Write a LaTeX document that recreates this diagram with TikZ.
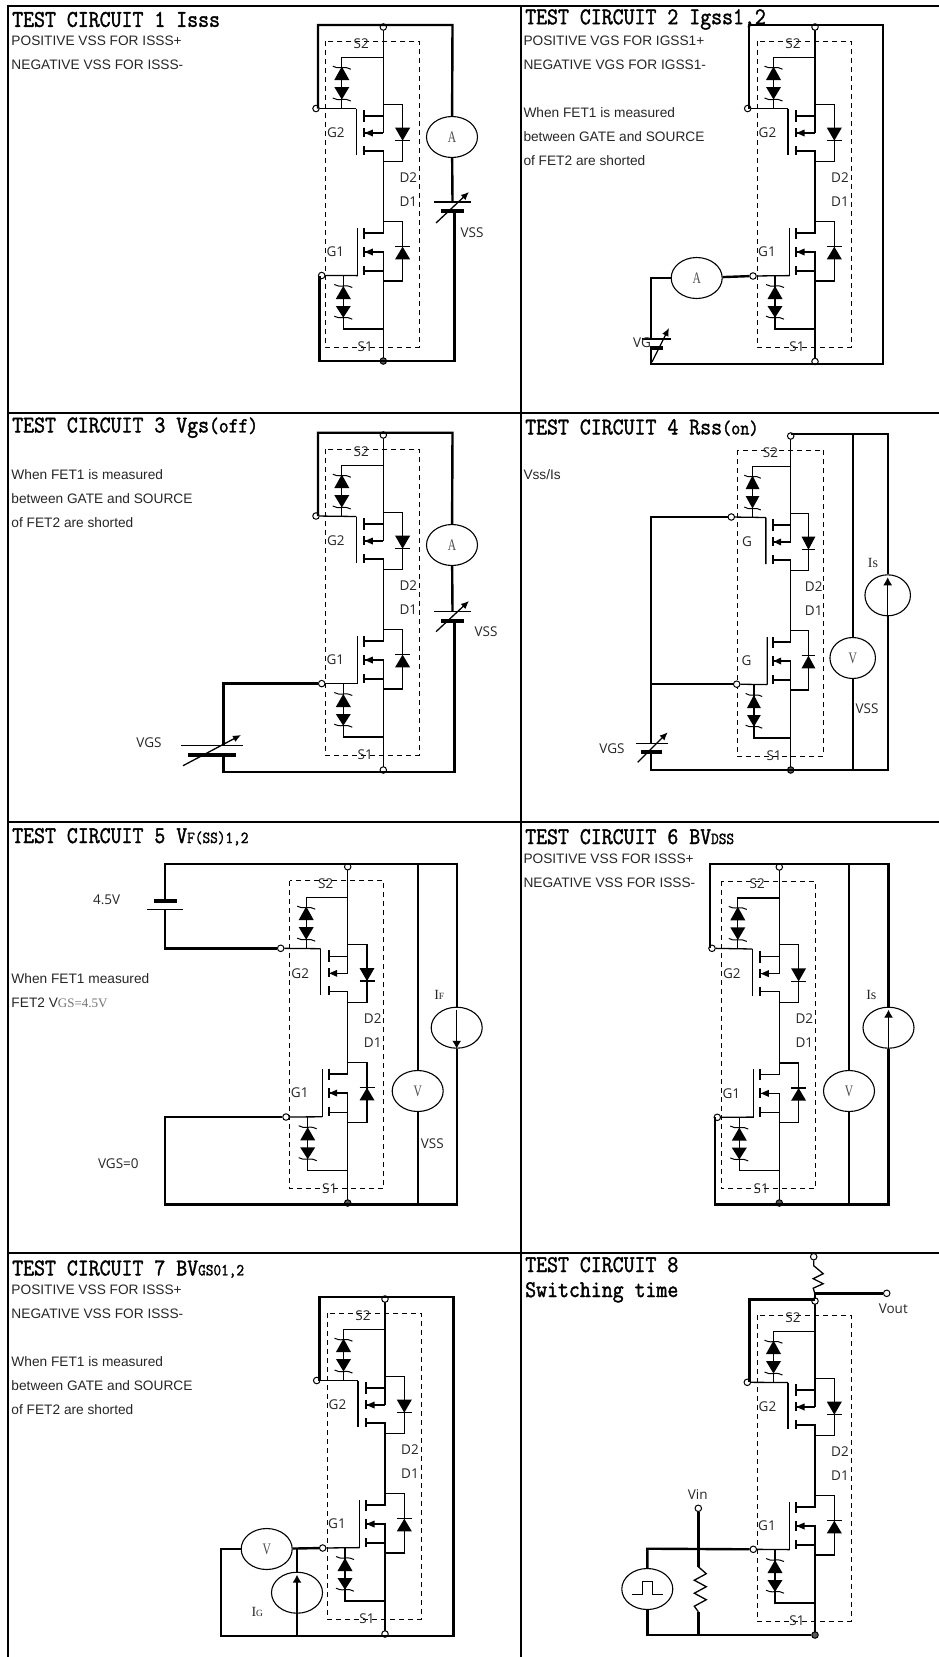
\documentclass[tikz,border=0pt]{standalone}
\usepackage{fontspec}
\setmainfont{Liberation Sans}
\newfontfamily\labelfont{Open Sans}
\newfontfamily\serifont{Liberation Serif}
\newfontfamily\meterfont{Liberation Serif}[FakeStretch=0.72]
\newfontfamily\headfont{Latin Modern Mono}[FakeStretch=0.885,FakeBold=1.6]
\usetikzlibrary{arrows.meta,shapes.geometric}

\tikzset{
frameline/.style={line width=2pt},
wire/.style={line width=2.4pt},
fetline/.style={line width=1.3pt},
chanline/.style={line width=2.1pt},
barline/.style={line width=4pt},
dashbox/.style={line width=0.9pt,dash pattern=on 5pt off 4pt},
term/.style={circle,draw,fill=white,line width=1pt,inner sep=0pt,minimum size=6.5pt},
termdark/.style={term,fill=black!65},
meter/.style={ellipse,draw,fill=white,line width=1.1pt,inner sep=0pt,minimum width=51pt,minimum height=41pt,font=\meterfont\fontsize{16}{16}\selectfont,text=black!70},
srcarrow/.style={line width=1.2pt,-{Latex[length=8pt,width=9pt]}},
head/.style={anchor=west,inner sep=0pt,font=\headfont\fontsize{24}{25}\selectfont},
note/.style={anchor=north west,inner sep=0pt,align=left,text=black!85,font=\fontsize{13.7}{24}\selectfont},
lab/.style={inner sep=0pt,text=black!85,font=\labelfont\fontsize{13.5}{14}\selectfont},
serlab/.style={inner sep=0pt,text=black!85,font=\serifont\fontsize{14}{14}\selectfont},
pics/fetpair/.style 2 args={code={
\draw[dashbox] (-58,14) rectangle (36,320);
\node[lab] (s2) at (-22,17) {S2};
\node[lab] (s1) at (-18,320) {S1};
\node[lab] (g2lab) at (-47.5,106) {#1};
\node[lab] (g1lab) at (-48,225) {#2};
\node[lab] (d2) at (25,151) {D2};
\node[lab] (d1) at (25,175) {D1};
\coordinate (g2) at (-27,81.5);
\coordinate (g1) at (-25.5,248.6);
\draw[fetline] (0,0) -- (0,106);
\draw[fetline] (-19,124) -- (0,124) -- (0,206) -- (-19,206);
\draw[fetline] (-19,89) -- (0,89);
\draw[fetline] (-19,244) -- (0,244);
\draw[fetline] (-18,225) -- (0,225) -- (0,334);
\foreach \ya in {106,225}
\fill (-18.5,\ya) -- (-10.5,\ya-3.5) -- (-10.5,\ya+3.5) -- cycle;
\draw[fetline] (-18,106) -- (0,106);
\draw[fetline] (g2) -- (-27,128);
\draw[fetline] (g1) -- (-25.5,201);
\foreach \ya/\yb in {83/95,101/110,119/128,201/212,220/230,239/248}
\draw[chanline] (-19,\ya) -- (-19,\yb);
\draw[fetline] (0,30.7) -- (-41.5,30.7) -- (-41.5,81.5);
\draw[fetline] (-40,248.6) -- (-40,302) -- (0,302);
\draw[fetline] (0,77.3) -- (19.3,77.3) -- (19.3,134.7) -- (0,134.7);
\draw[fetline] (0,194.7) -- (19.3,194.7) -- (19.3,254) -- (0,254);
\foreach \xa/\ya/\yb in {-41.5/39.5/53,-41.5/72.5/60,-40/259/272,-40/290.7/279,19.3/113.7/100.7,19.3/219.7/232.3}
\fill (\xa-7.5,\yb) -- (\xa+7.5,\yb) -- (\xa,\ya) -- cycle;
\foreach \xa/\ya in {19.3/113.7,19.3/219.7}
\draw[fetline] (\xa-7.5,\ya) -- (\xa+7.5,\ya);
\foreach \xa/\ya in {-41.5/40.7,-41.5/72.5,-40/259,-40/290.7}
\draw[line width=1pt] (\xa-9,\ya-1.5) .. controls (\xa-6,\ya+0.5) and (\xa-4,\ya) .. (\xa,\ya) .. controls (\xa+4,\ya) and (\xa+6,\ya-0.5) .. (\xa+9,\ya+1.5);
}},
pics/varbat/.style n args={4}{code={
\draw[fetline] (-#1,0) -- (#1,0);
\draw[barline] (-#2,9) -- (#2,9);
\draw[fetline,-{Latex[length=8pt,width=7pt]}] #3 -- #4;
}}
}

\begin{document}
\begin{tikzpicture}[x=1pt,y=-1pt]
\useasboundingbox (0,0) rectangle (939,1657);

\draw[frameline] (8,1657) -- (8,5.5) -- (939,5.5);
\draw[frameline] (520.5,5.5) -- (520.5,1657);
\draw[frameline] (8,413) -- (939,413);
\draw[frameline] (8,822) -- (939,822);
\draw[frameline] (8,1253) -- (939,1253);

% circuit 1
\node[head] (c1head) at (12,19.5) {TEST CIRCUIT 1 Isss};
\node[note] (c1note) at (11.3,36) {POSITIVE VSS FOR ISSS+\\NEGATIVE VSS FOR ISSS-};
\pic (c1) at (383.3,27) {fetpair={G2}{G1}};
\node[term] (c1s) at (383.3,27) {};
\node[termdark] (c1e) at (383.3,361) {};
\node[term] (c1gt) at (316,108.5) {};
\node[term] (c1gb) at (321.7,275.5) {};
\node[meter] (c1a) at (452,137) {A};
\node[lab] (c1vss) at (472,233) {VSS};
\coordinate (c1tl) at (318,25);
\coordinate (c1tr) at (452.5,25);
\coordinate (c1bl) at (319.5,361);
\coordinate (c1br) at (454.5,361);
\coordinate (c1bt) at (452.5,202);
\coordinate (c1bb) at (454.5,211);
\pic (c1bat) at (452.5,202) {varbat={18.5}{11.5}{(-16.5,21)}{(16.5,-10)}};
\draw[wire] (c1tl |- c1gt) -- (c1tl) -- (c1tr) -- (c1a);
\draw[wire] (c1a) -- (c1bt);
\draw[wire] (c1bb) -- (c1br) -- (c1bl) -- (c1bl |- c1gb);
\draw[fetline] (c1gt) -- (c1g2);
\draw[fetline] (c1gb) -- (c1g1);

% circuit 2
\node[head] (c2head) at (525,19.5) {TEST CIRCUIT 2 Igss1,2};
\node[note] (c2note) at (523.3,36) {POSITIVE VGS FOR IGSS1+\\NEGATIVE VGS FOR IGSS1-\\[24pt]When FET1 is measured\\between GATE and SOURCE\\of FET2 are shorted};
\pic (c2) at (815,27) {fetpair={G2}{G1}};
\node[term] (c2s) at (815,27) {};
\node[term] (c2e) at (815,361.5) {};
\node[term] (c2gt) at (747.7,108.5) {};
\node[term] (c2gb) at (753,276) {};
\node[meter] (c2a) at (696.7,278) {A};
\coordinate (c2tl) at (749,25);
\coordinate (c2tr) at (883,25);
\coordinate (c2br) at (883,364);
\coordinate (c2bl) at (651,364);
\coordinate (c2al) at (651,278);
\coordinate (c2bt) at (651,339);
\coordinate (c2bb) at (651,347);
\pic (c2bat) at (656,339) {varbat={14.5}{6.5}{(-4,23)}{(13,-11)}};
\node[lab] (c2vg) at (642,343) {VG};
\draw[wire] (c2tl |- c2gt) -- (c2tl) -- (c2tr) -- (c2br) -- (c2bl) -- (c2bb);
\draw[wire] (c2bt) -- (c2al) -- (c2a);
\draw[wire] (c2a) -- (c2gb);
\draw[fetline] (c2gt) -- (c2g2);
\draw[fetline] (c2gb) -- (c2g1);

% circuit 3
\node[head] (c3head) at (12,427.7) {TEST CIRCUIT 3 Vgs{\fontsize{21.5}{25}\selectfont(off)}};
\node[note] (c3note) at (11.3,469.5) {When FET1 is measured\\between GATE and SOURCE\\of FET2 are shorted};
\pic (c3) at (383.3,435) {fetpair={G2}{G1}};
\node[term] (c3s) at (383.3,435) {};
\node[term] (c3e) at (383.3,770) {};
\node[term] (c3gt) at (316,516) {};
\node[term] (c3gb) at (321.7,683.6) {};
\node[meter] (c3a) at (452,545) {A};
\node[lab] (c3vss) at (486,632) {VSS};
\node[lab] (c3vgs) at (149,742.7) {VGS};
\coordinate (c3tl) at (318,432.7);
\coordinate (c3tr) at (452.5,432.7);
\coordinate (c3br) at (454.5,771.7);
\coordinate (c3bl) at (223.3,771.7);
\coordinate (c3bt) at (452.5,611.7);
\coordinate (c3bb) at (454.5,620);
\coordinate (c3gt2) at (223.3,745.7);
\coordinate (c3gb2) at (223.3,754.7);
\pic (c3bat) at (452.5,611.7) {varbat={18.5}{11.5}{(-16.5,20)}{(16.5,-10.7)}};
\pic (c3batg) at (212,745.7) {varbat={31}{24}{(-29,20)}{(29,-10.7)}};
\draw[wire] (c3tl |- c3gt) -- (c3tl) -- (c3tr) -- (c3a);
\draw[wire] (c3a) -- (c3bt);
\draw[wire] (c3bb) -- (c3br) -- (c3bl) -- (c3gb2);
\draw[wire] (c3gt2) -- (c3gt2 |- c3gb) -- (c3gb);
\draw[fetline] (c3gt) -- (c3g2);
\draw[fetline] (c3gb) -- (c3g1);

% circuit 4
\node[head] (c4head) at (525,427.7) {TEST CIRCUIT 4 Rss{\fontsize{20}{25}\selectfont(on)}};
\node[note] (c4note) at (523.3,469.5) {Vss/Is};
\pic[xscale=.92] (c4) at (790.7,436) {fetpair={G}{G}};
\node[term] (c4s) at (790.7,436) {};
\node[termdark] (c4e) at (790.7,770) {};
\node[term] (c4gt) at (731.3,517) {};
\node[term] (c4gb) at (736.7,684.2) {};
\node[meter,minimum width=45.5pt] (c4v) at (852.7,658) {V};
\node[meter,minimum width=45.5pt] (c4i) at (887.7,595.3) {};
\node[lab] (c4vgs) at (612,749) {VGS};
\node[lab] (c4vss) at (867,709) {VSS};
\node[serlab] (c4is) at (873,563) {Is};
\coordinate (c4tl) at (790.7,433.7);
\coordinate (c4tm) at (852.7,433.7);
\coordinate (c4tr) at (887.7,433.7);
\coordinate (c4br) at (887.7,770);
\coordinate (c4bm) at (852.7,770);
\coordinate (c4bl) at (651,770);
\coordinate (c4bt) at (651,743.3);
\coordinate (c4bb) at (651,752.3);
\pic (c4bat) at (651.7,743.3) {varbat={16}{10.3}{(-14,19)}{(16,-11)}};
\draw[wire] (c4tl) -- (c4tr) -- (c4i);
\draw[wire] (c4i) -- (c4br) -- (c4bl) -- (c4bb);
\draw[wire] (c4bt) -- (c4bt |- c4gt) -- (c4gt);
\draw[wire] (c4bt |- c4gb) -- (c4gb);
\draw[wire] (c4tm) -- (c4v);
\draw[wire] (c4v) -- (c4bm);
\draw[srcarrow] (c4i.south) -- ([yshift=-3pt]c4i.north);
\draw[fetline] (c4gt) -- (c4g2);
\draw[fetline] (c4gb) -- (c4g1);

% circuit 5
\node[head] (c5head) at (12,836.7) {TEST CIRCUIT 5 V{\fontsize{16.8}{25}\selectfont F(SS)1,2}};
\node[note] (c5note) at (11.3,973.5) {When FET1 measured\\FET2 V{\serifont\fontsize{13}{24}\selectfont\color{black!55}GS=4.5V}};
\pic[yscale=1.006] (c5) at (347.7,866.7) {fetpair={G2}{G1}};
\node[term] (c5s) at (347.7,866.7) {};
\node[termdark] (c5e) at (347.7,1203) {};
\node[term] (c5gt) at (280.7,948.3) {};
\node[term] (c5gb) at (286,1117) {};
\node[meter] (c5v) at (417.7,1091) {V};
\node[meter] (c5i) at (456.7,1027.7) {};
\node[lab] (c5bat) at (106.7,899.3) {4.5V};
\node[lab] (c5vgs) at (118.3,1164) {VGS=0};
\node[lab] (c5vss) at (432.3,1143.3) {VSS};
\node[serlab] (c5if) at (439.3,995) {I{\fontsize{9.5}{10}\selectfont F}};
\coordinate (c5tl) at (165,864);
\coordinate (c5tm) at (417.7,864);
\coordinate (c5tr) at (456.7,864);
\coordinate (c5br) at (456.7,1204.3);
\coordinate (c5bm) at (417.7,1204.3);
\coordinate (c5bl) at (165,1204.3);
\coordinate (c5bt) at (165,901);
\coordinate (c5bb) at (165,909.3);
\draw[barline] ([xshift=-11.5pt]c5bt) -- ([xshift=11.5pt]c5bt);
\draw[fetline] ([xshift=-18pt]c5bb) -- ([xshift=18pt]c5bb);
\draw[wire] (c5bt) -- (c5tl) -- (c5tr) -- (c5i);
\draw[wire] (c5bb) -- (c5bb |- c5gt) -- (c5gt);
\draw[wire] (c5gb) -- (c5bl |- c5gb) -- (c5bl) -- (c5br) -- (c5i);
\draw[wire] (c5tm) -- (c5v);
\draw[wire] (c5v) -- (c5bm);
\draw[srcarrow] ([yshift=-3pt]c5i.north) -- (c5i.south);
\draw[fetline] (c5gt) -- (c5g2);
\draw[fetline] (c5gb) -- (c5g1);

% circuit 6
\node[head] (c6head) at (525,836.7) {TEST CIRCUIT 6 BV{\fontsize{16.8}{25}\selectfont DSS}};
\node[note] (c6note) at (523.3,853.3) {POSITIVE VSS FOR ISSS+\\NEGATIVE VSS FOR ISSS-};
\pic[yscale=1.006] (c6) at (779.3,867) {fetpair={G2}{G1}};
\node[term] (c6s) at (779.3,867) {};
\node[termdark] (c6e) at (779.3,1203) {};
\node[term] (c6gt) at (712,948.3) {};
\node[term] (c6gb) at (717.3,1117.3) {};
\node[meter] (c6v) at (849,1091) {V};
\node[meter] (c6i) at (888.5,1027.7) {};
\node[serlab] (c6is) at (871.3,995) {Is};
\coordinate (c6tl) at (710,864);
\coordinate (c6tm) at (849,864);
\coordinate (c6tr) at (888.5,864);
\coordinate (c6br) at (888.5,1204.3);
\coordinate (c6bm) at (849,1204.3);
\coordinate (c6bl) at (715,1204.3);
\draw[wire] (c6tl |- c6gt) -- (c6tl) -- (c6tr) -- (c6i);
\draw[wire] (c6i) -- (c6br) -- (c6bl) -- (c6bl |- c6gb);
\draw[wire] (c6tm) -- (c6v);
\draw[wire] (c6v) -- (c6bm);
\draw[srcarrow] (c6i.south) -- ([yshift=-3pt]c6i.north);
\draw[fetline] (c6gt) -- (c6g2);
\draw[fetline] (c6gb) -- (c6g1);

% circuit 7
\node[head] (c7head) at (12,1269) {TEST CIRCUIT 7 BV{\fontsize{16.8}{25}\selectfont GS01,2}};
\node[note] (c7note) at (11.3,1285) {POSITIVE VSS FOR ISSS+\\NEGATIVE VSS FOR ISSS-\\[24pt]When FET1 is measured\\between GATE and SOURCE\\of FET2 are shorted};
\pic (c7) at (385,1299) {fetpair={G2}{G1}};
\node[term] (c7s) at (385,1299) {};
\node[term] (c7e) at (385,1634) {};
\node[term] (c7gt) at (316.7,1380.5) {};
\node[term] (c7gb) at (322.7,1548) {};
\node[meter] (c7v) at (266.7,1549) {V};
\node[meter] (c7i) at (297,1592.7) {};
\node[serlab] (c7ig) at (257.3,1611.7) {I{\fontsize{9.5}{10}\selectfont G}};
\coordinate (c7tl) at (319.3,1297);
\coordinate (c7tr) at (453.3,1297);
\coordinate (c7br) at (453.3,1636);
\coordinate (c7bl) at (221,1636);
\coordinate (c7vl) at (221,1549);
\coordinate (c7j) at (297,1549);
\draw[wire] (c7gb) -- (c7v);
\draw[wire] (c7v) -- (c7vl) -- (c7bl) -- (c7br) -- (c7tr) -- (c7tl) -- (c7tl |- c7gt);
\draw[wire] (c7j) -- (c7i);
\draw[wire] (c7i) -- (c7j |- c7bl);
\draw[srcarrow] (c7i.south) -- ([yshift=-3pt]c7i.north);
\draw[fetline] (c7gt) -- (c7g2);
\draw[fetline] (c7gb) -- (c7g1);

% circuit 8
\node[head,align=left] (c8head) at (525,1279.8) {TEST CIRCUIT 8\\Switching time};
\pic (c8) at (815,1301) {fetpair={G2}{G1}};
\node[term] (c8s) at (815,1301) {};
\node[termdark] (c8e) at (815,1635) {};
\node[term] (c8gt) at (747.3,1382.3) {};
\node[term] (c8gb) at (753.3,1549.3) {};
\node[term] (c8t) at (813.7,1256.7) {};
\node[term] (c8out) at (886.7,1293.3) {};
\node[term] (c8vin) at (698.3,1508.3) {};
\node[meter] (c8p) at (647.3,1589) {};
\node[lab] (c8outlab) at (893.3,1309) {Vout};
\node[lab] (c8vinlab) at (697.7,1495) {Vin};
\coordinate (c8tl) at (749.3,1299.3);
\coordinate (c8tr) at (815,1299.3);
\coordinate (c8r) at (815,1293.3);
\coordinate (c8j) at (698.3,1548.7);
\coordinate (c8l) at (647.3,1548.7);
\coordinate (c8bl) at (647.3,1635);
\coordinate (c8ra) at (698.3,1566.7);
\coordinate (c8rb) at (698.3,1611.7);
\coordinate (c8rc) at (698.3,1633.5);
\draw[wire] (c8r) -- (c8out);
\draw[wire] (c8tr) -- (c8tr |- c8r);
\draw[wire] (c8tr) -- (c8tl) -- (c8tl |- c8gt);
\draw[fetline] (c8t) -- ++(0,9) -- ++(9.5,8) -- ++(-10,5) -- ++(10,5) -- ++(-10,4.5) -- ++(2,6.5);
\draw[wire] (c8gb) -- (c8l) -- (c8p);
\draw[wire] (c8p) -- (c8bl) -- (c8e);
\draw[wire] (c8vin) -- (c8ra);
\draw[fetline] (c8ra) -- ++(8,7) -- ++(-12,6.5) -- ++(12,6.5) -- ++(-12,6.5) -- ++(12,6.5) -- ++(-12,6.5) -- (c8rb);
\draw[wire] (c8rb) -- (c8rc);
\draw[fetline] (631.7,1594.3) -- ++(10.7,0) -- ++(0,-12.7) -- ++(10,0) -- ++(0,12.7) -- ++(10.3,0);
\draw[fetline] (c8gt) -- (c8g2);
\draw[fetline] (c8gb) -- (c8g1);

\end{tikzpicture}
\end{document}
